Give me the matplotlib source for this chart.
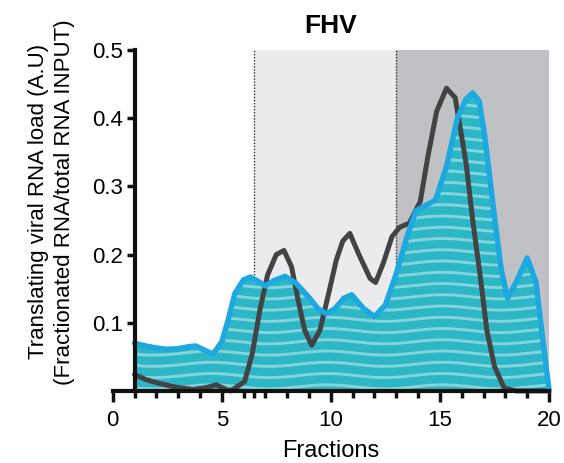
import numpy as np
import matplotlib
matplotlib.use("Agg")
from matplotlib import pyplot as plt
from matplotlib.patches import Polygon

plt.rcParams['font.family'] = ['Liberation Sans', 'DejaVu Sans']

# blue curve (translating, filled)
frac_blue = [1.0, 1.5, 2.0, 2.5, 3.0, 3.5, 3.8, 4.2, 4.6, 5.0, 5.3, 5.6, 6.0, 6.3,
             6.6, 7.0, 7.4, 7.9, 8.4, 9.0, 9.4, 9.8, 10.2, 10.6, 10.95, 11.5, 12.0,
             12.5, 13.0, 13.5, 13.9, 14.4, 14.8, 15.3, 15.8, 16.2, 16.5, 16.8, 17.05,
             17.5, 17.8, 18.1, 18.5, 19.0, 19.4, 19.7, 20.0]
val_blue = [0.070, 0.066, 0.063, 0.061, 0.062, 0.065, 0.066, 0.060, 0.054, 0.072,
            0.105, 0.143, 0.163, 0.167, 0.162, 0.154, 0.162, 0.168, 0.158, 0.137,
            0.121, 0.113, 0.121, 0.136, 0.141, 0.121, 0.109, 0.126, 0.172, 0.227,
            0.264, 0.273, 0.280, 0.329, 0.400, 0.428, 0.437, 0.425, 0.375, 0.256,
            0.180, 0.136, 0.160, 0.195, 0.160, 0.080, 0.002]

# dark curve
frac_dark = [1.0, 1.5, 2.0, 2.8, 3.7, 4.3, 4.75, 5.2, 5.4, 5.7, 6.05, 6.4, 6.75, 7.1,
             7.5, 7.85, 8.2, 8.5, 8.8, 9.12, 9.5, 9.9, 10.25, 10.55, 10.87, 11.3,
             11.8, 12.05, 12.4, 12.8, 13.15, 13.6, 14.1, 14.45, 14.85, 15.3, 15.7,
             16.2, 16.5, 16.85, 17.15, 17.5, 17.95, 18.5, 19.0, 19.5, 20.0]
val_dark = [0.024, 0.017, 0.012, 0.006, 0.002, 0.005, 0.009, 0.002, 0.0, 0.006,
            0.014, 0.055, 0.119, 0.170, 0.200, 0.206, 0.182, 0.133, 0.089, 0.067,
            0.089, 0.143, 0.192, 0.220, 0.231, 0.199, 0.165, 0.159, 0.187, 0.226,
            0.240, 0.246, 0.278, 0.344, 0.410, 0.444, 0.430, 0.334, 0.251, 0.168,
            0.089, 0.036, 0.004, 0.0, 0.0, 0.0, 0.0]

regions = [(6.5, 13, '#ebebee'), (13, 20, '#c0c1c5')]
x_major = [0, 5, 10, 15, 20]
y_ticks = [0.1, 0.2, 0.3, 0.4, 0.5]

fig = plt.figure(figsize=(5.64, 4.63), dpi=100)
ax = fig.add_axes([0.1998, 0.1557, 0.7736, 0.7363])
ax.set_xlim(0, 20)
ax.set_ylim(0, 0.5)

for x0, x1, c in regions:
    ax.axvspan(x0, x1, color=c, lw=0, zorder=0)
ax.vlines([6.5, 13], 0, 0.5, colors='#333333', linestyles=(0, (1, 1.2)), lw=1, zorder=0.5)

# filled area under the blue curve
verts = np.column_stack([np.r_[frac_blue, frac_blue[::-1]],
                         np.r_[val_blue, np.zeros(len(val_blue))]])
patch = Polygon(verts, closed=True, facecolor='#2bb7c6', edgecolor='none', zorder=1)
ax.add_patch(patch)

# wavy light stripes inside the fill
xs = np.linspace(1, 20, 400)
for base in np.arange(0.006, 0.45, 0.0165):
    ln, = ax.plot(xs, base + 0.003 * np.sin(2 * np.pi * (xs - 3.2) / 5.3),
                  color='#86d3dc', lw=2.1, zorder=1.2)
    ln.set_clip_path(patch)

ax.plot(frac_dark, val_dark, color='#434343', lw=3.6, zorder=2,
        solid_capstyle='round', solid_joinstyle='round', clip_on=False)
ax.plot(frac_blue, val_blue, color='#1ea8e0', lw=3.9, zorder=2.2,
        solid_capstyle='round', solid_joinstyle='round', clip_on=False)

# axes styling
for s in ['top', 'right']:
    ax.spines[s].set_visible(False)
ax.spines['left'].set_position(('data', 1))
ax.spines['left'].set_bounds(0, 0.5)
ax.spines['bottom'].set_bounds(0, 20)
for s in ['left', 'bottom']:
    ax.spines[s].set_linewidth(3)
    ax.spines[s].set_color('#111111')
    ax.spines[s].set_zorder(3)

ax.set_xticks(x_major)
ax.set_xticks(list(range(1, 20)) + [6.5], minor=True)
ax.set_yticks(y_ticks)
ax.set_yticklabels([str(v) for v in y_ticks])
ax.tick_params(axis='x', which='major', length=8, width=2.5, labelsize=16, pad=6, color='#111111')
ax.tick_params(axis='x', which='minor', length=5, width=2.5, color='#111111')
ax.tick_params(axis='y', length=6, width=2.5, labelsize=16, pad=2, color='#111111')

ax.set_xlabel('Fractions', fontsize=17, labelpad=6)
ax.set_ylabel('Translating viral RNA load (A.U)\n(Fractionated RNA/total RNA INPUT)',
              fontsize=16, linespacing=1.3)
ax.yaxis.set_label_coords(-0.086, 0.555)
ax.set_title('FHV', fontsize=19, fontweight='bold', pad=12)

fig.savefig('out.png', dpi=100)
